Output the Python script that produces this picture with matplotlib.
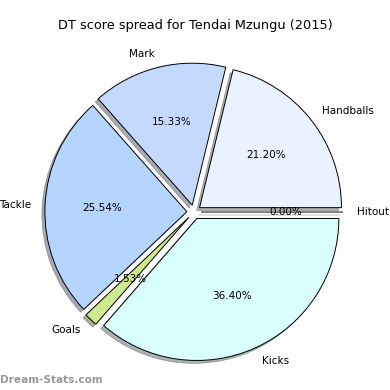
import matplotlib
matplotlib.use('Agg')
import matplotlib.pyplot as plt

labels = ['Handballs', 'Mark', 'Tackle', 'Goals', 'Kicks', 'Hitout']
values = [21.20, 15.33, 25.54, 1.53, 36.40, 0.00]
colors = ['#eaf1ff', '#c5d9ff', '#b5d5ff', '#cdea8c', '#daffff', '#e0e0ff']
explode = [0.05] * len(values)

fig = plt.figure(figsize=(3.9, 3.9), dpi=100)
ax = fig.add_axes([0.0423, 0.0013, 0.910, 0.910])

wedges, texts, autotexts = ax.pie(values, labels=labels, colors=colors, explode=explode,
                                  autopct='%1.2f%%', startangle=0,
                                  shadow={'ox': -0.015, 'oy': -0.015, 'shade': 0.6,
                                          'edgecolor': '#555555', 'linewidth': 0.5},
                                  labeldistance=1.1, pctdistance=0.6,
                                  wedgeprops={'edgecolor': 'black', 'linewidth': 0.7},
                                  textprops={'fontsize': 7.5})
ax.set_xlim(-1.25, 1.25)
ax.set_ylim(-1.25, 1.25)
ax.set_aspect('equal')

fig.text(0.5, 0.935, 'DT score spread for Tendai Mzungu (2015)', ha='center', va='center', fontsize=9.3)
fig.text(0.0, 0.025, 'Dream-Stats.com', ha='left', va='center', fontsize=7.6,
         color='#999999', fontweight='bold')

fig.savefig('out.png', dpi=100)
